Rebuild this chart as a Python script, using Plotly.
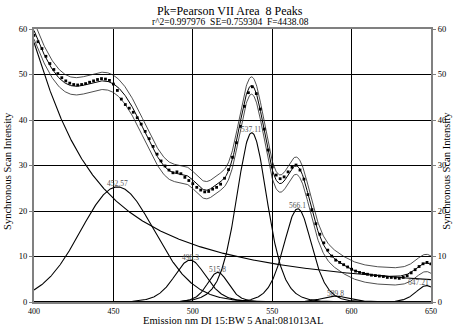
import numpy as np
import plotly.graph_objects as go

# ---------------- data ----------------
# observed synchronous-scan intensities, 400..650 nm every 2.5 nm
wl_start, wl_stop, wl_step = 400.0, 650.0, 2.5
obs_intensity = [
    58.6, 57.2, 55.7, 54.0, 52.4, 51.1, 50.2, 49.3, 48.6, 48.1,
    47.8, 47.7, 47.8, 48.0, 48.3, 48.6, 48.9, 49.1, 49.0, 48.7,
    47.9, 46.5, 44.6, 43.4, 42.6, 41.7, 40.5, 39.1, 37.5, 35.9,
    34.2, 32.5, 31.0, 29.9, 29.0, 28.4, 28.6, 28.2, 27.4, 26.7,
    26.0, 25.2, 24.6, 24.2, 24.3, 24.8, 25.2, 25.9, 27.2, 29.1,
    31.8, 35.0, 38.6, 43.0, 46.0, 47.3, 45.8, 42.4, 38.0, 33.4,
    29.7, 27.9, 27.1, 27.5, 28.6, 29.6, 30.1, 29.0, 27.0, 23.6,
    20.3, 17.2, 14.9, 13.0, 11.4, 10.1, 9.2, 8.7, 8.2, 7.7,
    7.2, 6.8, 6.5, 6.3, 6.1, 5.9, 5.8, 5.7, 5.6, 5.4,
    5.4, 5.3, 5.2, 5.4, 5.8, 6.4, 7.1, 7.8, 8.4, 8.7,
    8.4,
]

# Pearson VII peak parameters (8 peaks)
peak_centers = [380.0, 452.57, 498.3, 515.8, 537.11, 566.1, 589.8, 647.21]
peak_heights = [72.0, 25.3, 9.2, 6.5, 37.2, 20.5, 1.3, 3.6]
peak_hwhm = [42.8, 28.0, 12.0, 8.0, 11.5, 10.5, 10.0, 8.0]
peak_shape = [0.6, 10.0, 4.0, 4.0, 4.0, 4.0, 4.0, 4.0]
peak_labels = ["", "452.57", "498.3", "515.8", "537.11", "566.1", "589.8", "647.21"]

band_halfwidth = 1.9  # confidence band half width

x_ticks = [400, 450, 500, 550, 600, 650]
y_ticks = [0, 10, 20, 30, 40, 50, 60]

title_main = "Pk=Pearson VII Area  8 Peaks"
title_stats = "r^2=0.997976  SE=0.759304  F=4438.08"
x_title = "Emission nm DI 15:BW 5 Anal:081013AL"
y_title = "Synchronous Scan Intensity"

# ---------------- build ----------------
FONT = "Liberation Serif, Times New Roman, serif"
wl_obs = np.arange(wl_start, wl_stop + 0.01, wl_step)
xs = np.linspace(400, 650, 751)


def pearson7(x, c, h, w, m):
    k = 2 ** (1.0 / m) - 1
    return h * (1 + k * ((x - c) / w) ** 2) ** (-m)


comps = [pearson7(xs, c, h, w, m) for c, h, w, m in
         zip(peak_centers, peak_heights, peak_hwhm, peak_shape)]
fit = np.sum(comps, axis=0)

fig = go.Figure()
for comp in comps:
    fig.add_trace(go.Scatter(x=xs, y=comp, mode="lines",
                             line=dict(color="black", width=1.1),
                             hoverinfo="skip", showlegend=False))
fig.add_trace(go.Scatter(x=xs, y=fit + band_halfwidth, mode="lines",
                         line=dict(color="#222", width=0.8), showlegend=False))
fig.add_trace(go.Scatter(x=xs, y=fit - band_halfwidth, mode="lines",
                         line=dict(color="#222", width=0.8), showlegend=False))
fig.add_trace(go.Scatter(x=xs, y=fit, mode="lines",
                         line=dict(color="black", width=1), showlegend=False))
fig.add_trace(go.Scatter(x=wl_obs, y=obs_intensity, mode="markers",
                         marker=dict(color="black", size=2.8, symbol="square"),
                         showlegend=False))
# dummy trace for the right axis
fig.add_trace(go.Scatter(x=[400], y=[0], yaxis="y2", mode="markers",
                         marker=dict(opacity=0), showlegend=False, hoverinfo="skip"))

annotations = []
for c, h, lab in zip(peak_centers, peak_heights, peak_labels):
    if not lab:
        continue
    xanchor = "center"
    xpos = c
    if c > 640:
        xpos = 650
        xanchor = "right"
    annotations.append(dict(x=xpos, y=h, xref="x", yref="y", text=lab,
                            showarrow=False, xanchor=xanchor, yanchor="middle",
                            yshift=3, font=dict(family=FONT, size=7.5, color="#555")))

annotations += [
    dict(x=0.494, y=1.066, xref="paper", yref="paper", text=title_main,
         showarrow=False, font=dict(family=FONT, size=12, color="black"),
         xanchor="center", yanchor="middle"),
    dict(x=0.494, y=1.026, xref="paper", yref="paper", text=title_stats,
         showarrow=False, font=dict(family=FONT, size=9.5, color="black"),
         xanchor="center", yanchor="middle"),
    dict(x=0.5, y=-0.066, xref="paper", yref="paper", text=x_title,
         showarrow=False, font=dict(family=FONT, size=10.5, color="black"),
         xanchor="center", yanchor="middle"),
    dict(x=-0.0655, y=0.48, xref="paper", yref="paper", text=y_title,
         showarrow=False, textangle=-90, font=dict(family=FONT, size=10.5, color="black"),
         xanchor="center", yanchor="middle"),
    dict(x=1.040, y=0.48, xref="paper", yref="paper", text=y_title,
         showarrow=False, textangle=-90, font=dict(family=FONT, size=10.5, color="black"),
         xanchor="center", yanchor="middle"),
]

axis_common = dict(showline=True, linecolor="#808080", linewidth=2,
                   tickcolor="#808080", tickwidth=1,
                   zeroline=False, automargin=False)

fig.update_layout(
    width=453, height=326, autosize=False,
    margin=dict(l=34, r=22, t=29, b=24, autoexpand=False),
    paper_bgcolor="white", plot_bgcolor="white",
    showlegend=False,
    xaxis=dict(range=[400, 650], tickvals=x_ticks, showgrid=True, ticks="",
               ticklen=0, tickfont=dict(family=FONT, size=8, color="black"),
               gridcolor="black", gridwidth=1.3, mirror=True, **axis_common),
    yaxis=dict(range=[0, 60], tickvals=y_ticks, showgrid=True,
               ticks="outside", ticklen=3,
               tickfont=dict(family=FONT, size=8.5, color="black"),
               gridcolor="black", gridwidth=1.3, mirror=True, **axis_common),
    yaxis2=dict(range=[0, 60], tickvals=y_ticks, overlaying="y", side="right",
                ticks="outside", ticklen=3, showgrid=False,
                tickfont=dict(family=FONT, size=8.5, color="black"), **axis_common),
    annotations=annotations,
)

fig.write_html("out.html", config={"displayModeBar": False},
               post_script="document.body.style.margin='0';document.body.style.overflow='hidden';")
